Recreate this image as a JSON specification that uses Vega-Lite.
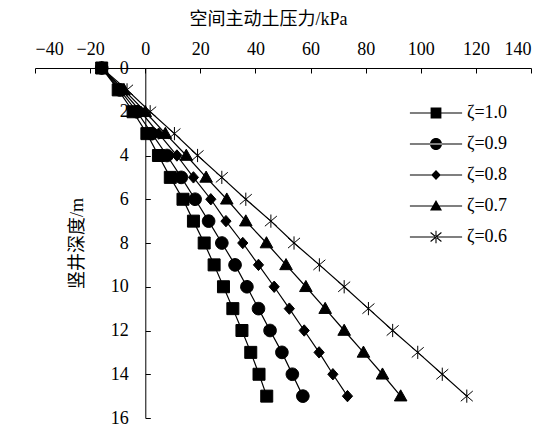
{
  "$schema": "https://vega.github.io/schema/vega-lite/v6.json",
  "width": 496,
  "height": 350,
  "autosize": "none",
  "padding": {"left": 35, "top": 68, "right": 21, "bottom": 9},
  "background": "white",
  "config": {"view": {"stroke": null}, "font": "Liberation Serif"},
  "datasets": {
    "pts": [
      {"z": "ζ=1.0", "d": 0, "p": -15.8}, {"z": "ζ=1.0", "d": 1, "p": -9.8}, {"z": "ζ=1.0", "d": 2, "p": -4.4}, {"z": "ζ=1.0", "d": 3, "p": 0.6},
      {"z": "ζ=1.0", "d": 4, "p": 4.8}, {"z": "ζ=1.0", "d": 5, "p": 9.1}, {"z": "ζ=1.0", "d": 6, "p": 13.7}, {"z": "ζ=1.0", "d": 7, "p": 17.5},
      {"z": "ζ=1.0", "d": 8, "p": 21.4}, {"z": "ζ=1.0", "d": 9, "p": 25.0}, {"z": "ζ=1.0", "d": 10, "p": 28.4}, {"z": "ζ=1.0", "d": 11, "p": 31.8},
      {"z": "ζ=1.0", "d": 12, "p": 35.1}, {"z": "ζ=1.0", "d": 13, "p": 38.3}, {"z": "ζ=1.0", "d": 14, "p": 41.3}, {"z": "ζ=1.0", "d": 15, "p": 44.1},
      {"z": "ζ=0.9", "d": 0, "p": -15.8}, {"z": "ζ=0.9", "d": 1, "p": -9.2}, {"z": "ζ=0.9", "d": 2, "p": -3.0}, {"z": "ζ=0.9", "d": 3, "p": 2.4},
      {"z": "ζ=0.9", "d": 4, "p": 7.9}, {"z": "ζ=0.9", "d": 5, "p": 13.1}, {"z": "ζ=0.9", "d": 6, "p": 18.1}, {"z": "ζ=0.9", "d": 7, "p": 23.0},
      {"z": "ζ=0.9", "d": 8, "p": 27.8}, {"z": "ζ=0.9", "d": 9, "p": 32.6}, {"z": "ζ=0.9", "d": 10, "p": 36.9}, {"z": "ζ=0.9", "d": 11, "p": 41.1},
      {"z": "ζ=0.9", "d": 12, "p": 45.3}, {"z": "ζ=0.9", "d": 13, "p": 49.6}, {"z": "ζ=0.9", "d": 14, "p": 53.4}, {"z": "ζ=0.9", "d": 15, "p": 57.2},
      {"z": "ζ=0.8", "d": 0, "p": -15.8}, {"z": "ζ=0.8", "d": 1, "p": -8.5}, {"z": "ζ=0.8", "d": 2, "p": -1.6}, {"z": "ζ=0.8", "d": 3, "p": 4.9},
      {"z": "ζ=0.8", "d": 4, "p": 11.5}, {"z": "ζ=0.8", "d": 5, "p": 17.5}, {"z": "ζ=0.8", "d": 6, "p": 23.8}, {"z": "ζ=0.8", "d": 7, "p": 29.3},
      {"z": "ζ=0.8", "d": 8, "p": 35.4}, {"z": "ζ=0.8", "d": 9, "p": 41.1}, {"z": "ζ=0.8", "d": 10, "p": 46.8}, {"z": "ζ=0.8", "d": 11, "p": 52.3},
      {"z": "ζ=0.8", "d": 12, "p": 57.7}, {"z": "ζ=0.8", "d": 13, "p": 63.1}, {"z": "ζ=0.8", "d": 14, "p": 68.1}, {"z": "ζ=0.8", "d": 15, "p": 73.4},
      {"z": "ζ=0.7", "d": 0, "p": -15.8}, {"z": "ζ=0.7", "d": 1, "p": -7.7}, {"z": "ζ=0.7", "d": 2, "p": 0.0}, {"z": "ζ=0.7", "d": 3, "p": 7.3},
      {"z": "ζ=0.7", "d": 4, "p": 14.9}, {"z": "ζ=0.7", "d": 5, "p": 22.1}, {"z": "ζ=0.7", "d": 6, "p": 29.6}, {"z": "ζ=0.7", "d": 7, "p": 36.5},
      {"z": "ζ=0.7", "d": 8, "p": 44.0}, {"z": "ζ=0.7", "d": 9, "p": 51.1}, {"z": "ζ=0.7", "d": 10, "p": 58.3}, {"z": "ζ=0.7", "d": 11, "p": 65.3},
      {"z": "ζ=0.7", "d": 12, "p": 72.2}, {"z": "ζ=0.7", "d": 13, "p": 79.2}, {"z": "ζ=0.7", "d": 14, "p": 86.1}, {"z": "ζ=0.7", "d": 15, "p": 92.7},
      {"z": "ζ=0.6", "d": 0, "p": -15.8}, {"z": "ζ=0.6", "d": 1, "p": -6.6}, {"z": "ζ=0.6", "d": 2, "p": 1.8}, {"z": "ζ=0.6", "d": 3, "p": 10.6},
      {"z": "ζ=0.6", "d": 4, "p": 19.0}, {"z": "ζ=0.6", "d": 5, "p": 27.8}, {"z": "ζ=0.6", "d": 6, "p": 36.5}, {"z": "ζ=0.6", "d": 7, "p": 45.6},
      {"z": "ζ=0.6", "d": 8, "p": 54.0}, {"z": "ζ=0.6", "d": 9, "p": 63.2}, {"z": "ζ=0.6", "d": 10, "p": 72.2}, {"z": "ζ=0.6", "d": 11, "p": 81.0},
      {"z": "ζ=0.6", "d": 12, "p": 89.8}, {"z": "ζ=0.6", "d": 13, "p": 98.9}, {"z": "ζ=0.6", "d": 14, "p": 107.8}, {"z": "ζ=0.6", "d": 15, "p": 116.7}
    ]
  },
  "data": {"name": "pts"},
  "encoding": {
    "y": {
      "field": "d", "type": "quantitative",
      "scale": {"domain": [0, 16], "reverse": true, "nice": false, "zero": false},
      "axis": {
        "orient": "left", "offset": -110.3,
        "values": [0, 2, 4, 6, 8, 10, 12, 14, 16],
        "grid": false, "tickSize": -5, "tickColor": "black", "domainColor": "black",
        "labelFont": "Liberation Serif", "labelFontSize": 18, "labelColor": "black", "labelPadding": 22,
        "title": "竖井深度/m", "titleFont": "Liberation Serif, Noto Sans CJK SC", "titleFontSize": 18,
        "titleFontWeight": "normal", "titleColor": "black", "titlePadding": 24
      }
    },
    "x": {
      "field": "p", "type": "quantitative",
      "scale": {"domain": [-40, 140], "nice": false, "zero": false},
      "axis": {
        "orient": "top",
        "values": [-40, -20, 0, 20, 40, 60, 80, 100, 120, 140],
        "grid": false, "tickSize": -5, "tickColor": "black", "domainColor": "black",
        "labelFont": "Liberation Serif", "labelFontSize": 18, "labelColor": "black", "labelPadding": 15,
        "title": "空间主动土压力/kPa", "titleFont": "Liberation Serif, Noto Sans CJK SC", "titleFontSize": 18,
        "titleFontWeight": "normal", "titleColor": "black", "titlePadding": 12, "titleX": 233
      }
    }
  },
  "layer": [
    {
      "mark": {"type": "line", "color": "black", "strokeWidth": 1.2},
      "encoding": {"detail": {"field": "z", "type": "nominal"}, "order": {"field": "d", "type": "quantitative"}}
    },
    {
      "mark": {"type": "point", "filled": true, "fill": "black", "stroke": "black", "strokeWidth": 1, "opacity": 1, "size": 36},
      "encoding": {
        "shape": {
          "field": "z", "type": "nominal",
          "scale": {
            "domain": ["ζ=1.0", "ζ=0.9", "ζ=0.8", "ζ=0.7", "ζ=0.6"],
            "range": [
              "M-2,-2H2V2H-2Z",
              "M-2.1,0A2.1,2.1,0,1,0,2.1,0A2.1,2.1,0,1,0,-2.1,0Z",
              "M0,-1.9L1.7,0L0,1.9L-1.7,0Z",
              "M0,-2.1L2.1,1.6L-2.1,1.6Z",
              "M-2,-1.7L2,1.7M2,-1.7L-2,1.7M0,-2.2V2.2"
            ]
          },
          "legend": null
        }
      }
    },
    {
      "transform": [{"filter": "datum.d < 0"}],
      "mark": {"type": "point", "filled": true, "fill": "black", "stroke": "black", "strokeWidth": 1, "opacity": 1, "size": 36},
      "encoding": {
        "shape": {
          "field": "z", "type": "nominal",
          "scale": {
            "domain": ["ζ=1.0", "ζ=0.9", "ζ=0.8", "ζ=0.7", "ζ=0.6"],
            "range": [
              "M-8.7,-0.2H8.7V0.2H-8.7ZM-1.8,-1.8H1.8V1.8H-1.8Z",
              "M-8.7,-0.2H8.7V0.2H-8.7ZM-2,0A2,2,0,1,0,2,0A2,2,0,1,0,-2,0Z",
              "M-8.7,-0.2H8.7V0.2H-8.7ZM0,-1.7L1.6,0L0,1.7L-1.6,0Z",
              "M-8.7,-0.2H8.7V0.2H-8.7ZM0,-2L2,1.5L-2,1.5Z",
              "M-8.7,-0.2H8.7V0.2H-8.7ZM-0.18,-2.1H0.18V2.1H-0.18ZM-1.909,-1.369L1.691,1.631L1.909,1.369L-1.691,-1.631ZM1.909,-1.369L-1.691,1.631L-1.909,1.369L1.691,-1.631Z"
            ]
          },
          "legend": {
            "orient": "none", "legendX": 392, "legendY": 36, "title": null, "padding": 0,
            "labelFont": "Liberation Serif", "labelFontSize": 18, "labelColor": "black",
            "symbolSize": 36, "labelOffset": 22, "rowPadding": 13,
            "symbolFillColor": "black", "symbolStrokeColor": "black", "symbolStrokeWidth": 1, "symbolOpacity": 1
          }
        }
      }
    }
  ],
  "resolve": {"scale": {"shape": "independent"}, "legend": {"shape": "independent"}}
}
